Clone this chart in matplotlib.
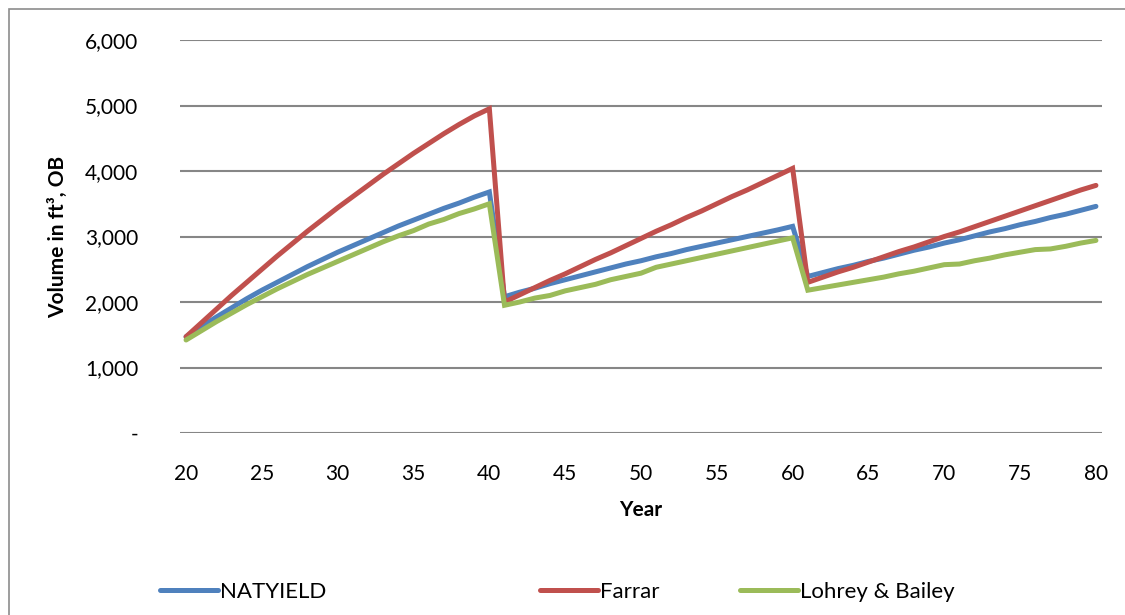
import matplotlib.pyplot as plt
import numpy as np
from matplotlib.patches import Rectangle
from matplotlib.ticker import FuncFormatter, MultipleLocator

plt.rcParams['font.family'] = ['Lato', 'DejaVu Sans']

years = np.arange(20, 81)

natyield = [1470, 1620, 1770, 1910, 2050, 2180, 2300, 2420, 2540, 2650,
            2760, 2860, 2960, 3060, 3160, 3250, 3340, 3430, 3510, 3600, 3680,
            2080, 2150, 2210, 2280, 2340, 2400, 2460, 2520, 2580, 2630,
            2690, 2740, 2800, 2850, 2900, 2950, 3000, 3050, 3100, 3155,
            2390, 2450, 2510, 2560, 2620, 2670, 2730, 2790, 2840, 2900,
            2950, 3010, 3070, 3120, 3180, 3230, 3290, 3340, 3400, 3460]

farrar = [1470, 1680, 1890, 2100, 2300, 2500, 2700, 2890, 3080, 3260,
          3440, 3610, 3780, 3950, 4110, 4270, 4420, 4570, 4710, 4840, 4950,
          2000, 2110, 2220, 2330, 2430, 2540, 2650, 2750, 2860, 2970,
          3080, 3180, 3290, 3390, 3500, 3610, 3710, 3820, 3930, 4040,
          2300, 2380, 2460, 2530, 2610, 2690, 2770, 2840, 2920, 3000,
          3070, 3150, 3230, 3310, 3390, 3470, 3550, 3630, 3710, 3780]

lohrey_bailey = [1420, 1560, 1700, 1830, 1960, 2080, 2200, 2310, 2420, 2520,
                 2620, 2720, 2820, 2920, 3010, 3090, 3190, 3260, 3350, 3420, 3500,
                 1950, 2000, 2060, 2100, 2170, 2220, 2270, 2340, 2390, 2440,
                 2530, 2580, 2630, 2680, 2730, 2780, 2830, 2880, 2930, 2980,
                 2180, 2220, 2260, 2300, 2340, 2380, 2430, 2470, 2520, 2570,
                 2580, 2630, 2670, 2720, 2760, 2800, 2810, 2850, 2900, 2940]

series = [("NATYIELD", natyield, "#4F81BD"),
          ("Farrar", farrar, "#C0504D"),
          ("Lohrey & Bailey", lohrey_bailey, "#9BBB59")]

W, H = 1125, 615
fig = plt.figure(figsize=(W / 100, H / 100), dpi=100)
ax = fig.add_axes([180 / W, 1 - 433 / H, (1102 - 180) / W, (433 - 40) / H])

# chart area frame
fig.patches.append(Rectangle((9 / W, -0.05), 1.1, 1 - 9 / H + 0.05,
                             transform=fig.transFigure, fill=False,
                             edgecolor="#8C8C8C", linewidth=1.2))

lines = []
for name, vals, color in series:
    ln, = ax.plot(years, vals, color=color, linewidth=3.6, label=name,
                  solid_capstyle="round", solid_joinstyle="miter")
    lines.append(ln)

ax.set_xlim(19.6, 80.4)
ax.set_ylim(0, 6000)
ax.xaxis.set_major_locator(MultipleLocator(5))
ax.yaxis.set_major_locator(MultipleLocator(1000))
ax.yaxis.set_major_formatter(FuncFormatter(lambda v, p: "-" if v == 0 else f"{int(v):,}"))
ax.grid(axis="y", color="#868686", linewidth=1.5)
ax.set_axisbelow(True)
for s in ax.spines.values():
    s.set_visible(False)
ax.tick_params(axis="both", length=0, labelsize=15, colors="black")
ax.tick_params(axis="y", pad=30)
ax.tick_params(axis="x", pad=22)

ax.set_xlabel("Year", fontsize=15, fontweight="bold", labelpad=12)
fig.text(58 / W, 1 - 237 / H, "Volume in ft³, OB", rotation=90,
         fontsize=15, fontweight="bold", ha="center", va="center")

legend_x = [160, 540, 740]
for ln, x0 in zip(lines, legend_x):
    fig.legend(handles=[ln], loc="center left",
               bbox_to_anchor=(x0 / W, 1 - 592 / H), frameon=False,
               fontsize=16, handlelength=2.6, handletextpad=0.12,
               borderpad=0, borderaxespad=0)

fig.savefig("out.png", dpi=100)
